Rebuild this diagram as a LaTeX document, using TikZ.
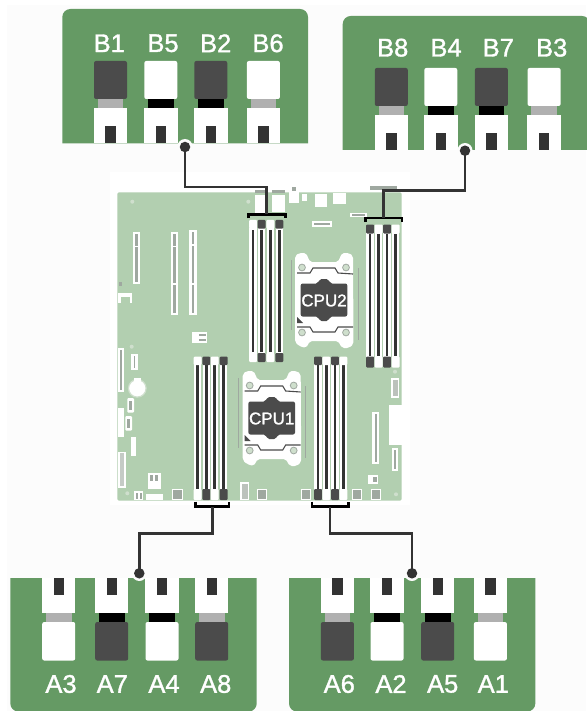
\documentclass[tikz,border=0pt]{standalone}
\usepackage{fontspec}
\setmainfont{Liberation Sans}
\newfontfamily\labelface[FakeBold=1.3]{Liberation Sans}
\definecolor{panelgreen}{HTML}{659A64}
\definecolor{boardgreen}{HTML}{B2CFB0}
\definecolor{pagegray}{HTML}{FCFCFC}
\definecolor{bodydark}{HTML}{4B4B4B}
\definecolor{notchdark}{HTML}{333333}
\definecolor{collargray}{HTML}{B0B0B0}
\definecolor{linedark}{HTML}{333333}
\definecolor{partgray}{HTML}{9FA8A0}
\definecolor{ringfill}{HTML}{CFDFCD}
\tikzset{
  x=1pt,y=-1pt,
  panelfill/.style={fill=panelgreen,draw=none},
  slotlabel/.style={text=white,font=\labelface\fontsize{25.5}{26}\selectfont,inner sep=0pt},
  cpulabel/.style={text=white,font=\labelface\fontsize{17}{17}\selectfont,inner sep=0pt},
  conn/.style={draw=linedark,line width=2.7pt},
  brk/.style={draw=black,line width=2.8pt},
  dotmark/.style={circle,fill=linedark,draw=none,minimum size=10.5pt,inner sep=0pt},
  halomark/.style={circle,fill=pagegray,draw=none,minimum size=15pt,inner sep=0pt},
  wpart/.style={fill=white,draw=none},
  gpart/.style={fill=partgray,draw=none},
  hole/.style={circle,fill=ringfill,draw=none,minimum size=4pt,inner sep=0pt},
}
% enlarged slot pointing down: left edge, top of body, body colour, collar colour
\newcommand{\slotdown}[4]{
  \fill[#3,rounded corners=2pt] (#1+0.3,#2) rectangle (#1+33.3,#2+38);
  \fill[#4] (#1+4,#2+38) rectangle (#1+29.6,#2+48);
  \fill[white] (#1,#2+47.5) rectangle (#1+33.6,#2+82);
  \fill[notchdark] (#1+11.6,#2+65) rectangle (#1+22,#2+82);
}
% enlarged slot pointing up: left edge, body colour, collar colour
\newcommand{\slotup}[3]{
  \fill[white] (#1,578) rectangle (#1+33.4,613);
  \fill[notchdark] (#1+11.6,578) rectangle (#1+22,595);
  \fill[#3] (#1+4,612.5) rectangle (#1+29.6,622.5);
  \fill[#2,rounded corners=2pt] (#1+0.2,622) rectangle (#1+33.2,660.5);
}
% memory slot on the board: centre, top, bottom
\newcommand{\boardslot}[3]{
  \fill[white] (#1-3.7,#2) rectangle (#1+3.7,#3);
  \fill[notchdark] (#1-1.3,#2+2) rectangle (#1+1.3,#3-2);
}
\newcommand{\latchmark}[4]{
  \fill[#4,rounded corners=1pt] (#1-4,#2) rectangle (#1+4,#3);
}
% socket with processor
\newcommand{\cpuunit}[4]{
  \begin{scope}[shift={(#1,#2)}]
    \draw[draw=partgray,line width=.9pt] (-33,-40) -- (-33,30);
    \draw[draw=partgray,line width=.9pt] (34,-32) -- (34,40);
    \fill[white,rounded corners=2pt] (-29,-44) -- (-25,-47) -- (-18,-47) -- (-14,-38) -- (14,-38) -- (18,-47) -- (25,-47) -- (29,-44) -- (29.5,44) -- (25,48) -- (18,48) -- (14,41) -- (-14,41) -- (-18,48) -- (-25,46) -- (-29,42) -- cycle;
    \draw[draw=bodydark,line width=1.1pt] (-27,-27) -- (-14,-27) -- (-11,-32) -- (11,-32) -- (14,-27) -- (29,-26);
    \draw[draw=bodydark,line width=1.1pt] (-27,27) -- (-14,27) -- (-11,32) -- (11,32) -- (14,27) -- (29,27);
    \foreach \px/\py in {-22/-32.5,22/-32.5,-22/32.5,22/32.5}
      \draw[draw=partgray,fill=ringfill,line width=.8pt] (\px,\py) circle (3.4);
    \fill[bodydark,rounded corners=2pt] (-23.3,-16.5) -- (-6,-16.5) -- (-4.5,-21) -- (4.5,-21) -- (6,-16.5) -- (23.3,-16.5) -- (23.3,16.5) -- (6,16.5) -- (4.5,21) -- (-4.5,21) -- (-6,16.5) -- (-23.3,16.5) -- cycle;
    \fill[bodydark] (-27,17) -- (-27,23) -- (-21,23) -- cycle;
    \node[cpulabel] (#3) at (0,0.5) {#4};
  \end{scope}
}
\begin{document}
\begin{tikzpicture}
\useasboundingbox (0,0) rectangle (586,711);
\fill[pagegray] (0,0) rectangle (586,711);
\fill[white] (0,0) rectangle (586,5);
\fill[white] (0,0) rectangle (7,711);
\fill[white] (110,172) rectangle (410,505);

% ---------- board
\fill[boardgreen,rounded corners=1.5pt] (117.3,192.3) rectangle (401.7,500.7);
\fill[white] (389,405) rectangle (402,445);
% rear ports
\fill[gpart] (255,190.5) rectangle (267,193);
\fill[gpart] (272,190.5) rectangle (285,193);
\fill[gpart] (291.5,187) rectangle (295.5,191.5);
\fill[gpart] (370,186) rectangle (397,190.5);
\foreach \xa/\ya/\xb/\yb in {255/195/267.3/213,271.7/195/285/212,289/192.5/298.7/203,301.7/194/306.7/201,314.7/194/326.7/206.7,333.3/193/345.7/204.3}
  \fill[wpart] (\xa,\ya) rectangle (\xb,\yb);
\fill[wpart] (350,213.3) rectangle (367,217.3);
\fill[gpart] (352,214.5) rectangle (365,216);
\fill[wpart] (311.7,221) rectangle (331.7,226.7);
\fill[gpart] (313.5,222.8) rectangle (330,224.8);
% expansion slots
\foreach \xa/\ya/\yb in {132.7/231.7/284.3,170.7/231.7/315,189.3/230.3/315}{
  \fill[wpart] (\xa,\ya) rectangle (\xa+7.3,\yb);
  \fill[gpart] (\xa+2.2,\ya+2) rectangle (\xa+5.1,\yb-2);
  \fill[wpart] (\xa+2,\ya+14) rectangle (\xa+5.3,\ya+15.5);
}
\fill[wpart] (170.7,283) rectangle (178,284.5);
\fill[wpart] (189.3,283) rectangle (196.7,284.5);
% small parts, left and top
\fill[wpart] (118.3,293.3) rectangle (132.3,303.3);
\fill[boardgreen] (121,297) rectangle (130,303.3);
\fill[gpart] (118.5,282) rectangle (122,286);
\fill[wpart] (191.7,331.7) rectangle (207.3,343.3);
\fill[gpart] (199,334) rectangle (206,335.5);
\fill[gpart] (199,339) rectangle (206,340.5);
\fill[wpart] (118.3,348) rectangle (124.3,392);
\fill[gpart] (120.3,350) rectangle (122.3,390);
\fill[wpart] (131,354) rectangle (137.7,370);
\fill[gpart] (133.5,356) rectangle (135.2,368);
\draw[draw=ringfill,fill=white,line width=1.2pt] (137.3,388.3) circle (8.8);
\fill[wpart] (134,378) rectangle (141,381);
\fill[wpart,rounded corners=1pt] (127.3,398) rectangle (134,412.7);
\fill[partgray] (129.3,401) rectangle (132,410);
\fill[wpart,rounded corners=1pt] (125.3,416) rectangle (132,430.7);
\fill[partgray] (127.3,419) rectangle (130,428);
\fill[wpart] (118.3,408) rectangle (124,436.7);
\fill[wpart] (130.7,436.7) rectangle (136,456);
\fill[wpart] (118.3,451.7) rectangle (125.7,487.7);
\fill[partgray!60!white] (119.8,453) rectangle (124.2,486);
\fill[wpart] (148.3,473) rectangle (160.7,489);
\fill[gpart] (150,475) rectangle (153,481);
\fill[gpart] (155,475) rectangle (158,481);
\fill[wpart] (134.3,491) rectangle (143.3,500);
\fill[gpart] (136,492.5) rectangle (138,498.5);
\fill[gpart] (139.5,492.5) rectangle (141.5,498.5);
\fill[wpart] (146,494.3) rectangle (162.7,500);
% connectors along the lower edge and right side
\foreach \xa/\xb in {172.7/182.7,257.3/266.7,301.7/310.7,352.7/361.7,371/380}
  \filldraw[draw=white,fill=partgray,line width=.7pt] (\xa,489.5) rectangle (\xb,499);
\fill[wpart] (240,481.7) rectangle (249.3,500);
\fill[partgray!70!white] (241.5,483.5) rectangle (247.8,498.5);
\fill[wpart] (368.3,475) rectangle (378.3,484);
\fill[gpart] (373,477) rectangle (377,482);
\fill[wpart] (372.3,411.7) rectangle (379.3,464);
\fill[gpart] (374.8,413.5) rectangle (376.8,462);
\fill[wpart] (391.7,447.7) rectangle (398.3,470.7);
\fill[gpart] (394,449.5) rectangle (396,469);
\fill[wpart] (391,378.3) rectangle (399,397.7);
\fill[partgray!70!white] (392.5,380) rectangle (397.5,396);
\node[hole] (h1) at (132.3,201.7) {};
\node[hole] (h2) at (248.3,201.7) {};
\node[hole] (h3) at (131.7,346.7) {};
\node[hole] (h4) at (127.3,493.3) {};
\node[hole] (h5) at (396,494.3) {};
\node[hole] (h6) at (395,371.7) {};

% memory slots
\foreach \c in {253,261.7,270.3,279.3} \boardslot{\c}{228}{354};
\foreach \c/\k in {253/white,261.7/bodydark,270.3/white,279.3/bodydark}{
  \latchmark{\c}{220}{228.5}{\k}
  \latchmark{\c}{353}{362}{\k}
}
\foreach \c in {370,378.7,387,395.7} \boardslot{\c}{232}{358};
\foreach \c/\k in {370/bodydark,378.7/white,387/bodydark,395.7/white}{
  \latchmark{\c}{224.5}{233.5}{\k}
  \latchmark{\c}{356.5}{367.5}{\k}
}
\foreach \c in {197.7,206.3,214.7,223.7} \boardslot{\c}{363}{491};
\foreach \c/\k in {197.7/white,206.3/bodydark,214.7/white,223.7/bodydark}{
  \latchmark{\c}{356.7}{365}{\k}
  \latchmark{\c}{489}{500}{\k}
}
\foreach \c in {318,326.3,335,343.3} \boardslot{\c}{363}{491};
\foreach \c/\k in {318/bodydark,326.3/white,335/bodydark,343.3/white}{
  \latchmark{\c}{356.7}{365}{\k}
  \latchmark{\c}{489}{500}{\k}
}

% processors
\cpuunit{324}{300}{cputwo}{CPU2}
\cpuunit{271.7}{418}{cpuone}{CPU1}

% ---------- enlarged panels
\fill[panelfill,rounded corners=8pt] (62.3,143.3) [sharp corners] -- (62.3,143.3) [rounded corners=8pt] -- (62.3,9) -- (308,9) [sharp corners] -- (308,143.3) -- cycle;
\fill[panelfill,rounded corners=8pt] (342.7,150) -- (342.7,16) -- (590,16) [sharp corners] -- (590,150) -- cycle;
\fill[panelfill,rounded corners=8pt] (10.3,578) -- (10.3,711.5) -- (256.7,711.5) [sharp corners] -- (256.7,578) -- cycle;
\fill[panelfill,rounded corners=8pt] (289,578) -- (289,711.5) -- (535.3,711.5) [sharp corners] -- (535.3,578) -- cycle;

\slotdown{93.7}{61}{bodydark}{collargray}
\slotdown{144}{61}{white}{black}
\slotdown{194}{61}{bodydark}{black}
\slotdown{246.6}{61}{white}{collargray}
\slotdown{374.5}{68}{bodydark}{collargray}
\slotdown{424}{68}{white}{black}
\slotdown{474.6}{68}{bodydark}{black}
\slotdown{527.3}{68}{white}{collargray}

\slotup{42}{white}{collargray}
\slotup{95}{bodydark}{black}
\slotup{145.3}{white}{black}
\slotup{195}{bodydark}{collargray}
\slotup{320.7}{bodydark}{collargray}
\slotup{370.3}{white}{black}
\slotup{421}{bodydark}{black}
\slotup{473.7}{white}{collargray}

\node[slotlabel] (lB1) at (109.3,43.3) {B1};
\node[slotlabel] (lB5) at (163,43.3) {B5};
\node[slotlabel] (lB2) at (215.7,43.3) {B2};
\node[slotlabel] (lB6) at (268,43.3) {B6};
\node[slotlabel] (lB8) at (392.7,47.7) {B8};
\node[slotlabel] (lB4) at (446,47.7) {B4};
\node[slotlabel] (lB7) at (498.3,47.7) {B7};
\node[slotlabel] (lB3) at (551.7,47.7) {B3};
\node[slotlabel] (lA3) at (61,684) {A3};
\node[slotlabel] (lA7) at (112.3,684) {A7};
\node[slotlabel] (lA4) at (164,684) {A4};
\node[slotlabel] (lA8) at (215.7,684) {A8};
\node[slotlabel] (lA6) at (339.3,684) {A6};
\node[slotlabel] (lA2) at (391,684) {A2};
\node[slotlabel] (lA5) at (442.7,684) {A5};
\node[slotlabel] (lA1) at (493.3,684) {A1};

% ---------- brackets and connectors
\coordinate (brkBl) at (266.7,214.5);
\coordinate (brkBr) at (383.3,218);
\coordinate (brkAl) at (212.3,506.5);
\coordinate (brkAr) at (330,506.5);
\coordinate (elbBl) at (266.7,187);
\coordinate (elbBr) at (383.3,190.7);
\coordinate (elbAl) at (212.3,533.3);
\coordinate (elbAr) at (330,533.3);

\draw[brk] (248.7,218.5) -- (248.7,214.5) -- (285.3,214.5) -- (285.3,218.5);
\draw[brk] (365.3,222) -- (365.3,218) -- (402,218) -- (402,222);
\draw[brk] (195.7,501.7) -- (195.7,506.5) -- (229,506.5) -- (229,501.7);
\draw[brk] (312,501.7) -- (312,506.5) -- (348.7,506.5) -- (348.7,501.7);

\node[halomark] (hBl) at (185,146.5) {};
\node[halomark] (hBr) at (465,150.5) {};
\node[halomark] (hAl) at (139.3,573.5) {};
\node[halomark] (hAr) at (412,573.5) {};
\node[dotmark] (dBl) at (185,147) {};
\node[dotmark] (dBr) at (465,150.7) {};
\node[dotmark] (dAl) at (139.3,573.3) {};
\node[dotmark] (dAr) at (412,573.3) {};

\draw[conn] (dBl.center) |- (elbBl) -- (brkBl);
\draw[conn] (dBr.center) |- (elbBr) -- (brkBr);
\draw[conn] (dAl.center) |- (elbAl) -- (brkAl);
\draw[conn] (dAr.center) |- (elbAr) -- (brkAr);
\end{tikzpicture}
\end{document}
